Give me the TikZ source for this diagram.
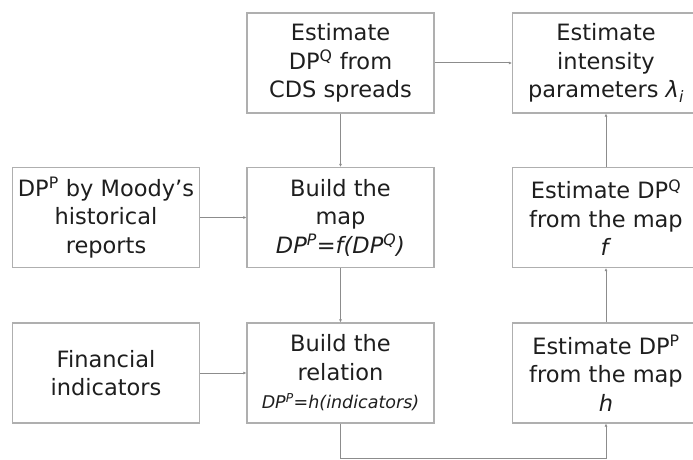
\documentclass[tikz,border=0pt]{standalone}
\usepackage{fontspec}
\setmainfont{DejaVu Sans}
\usepackage{xcolor}
\usetikzlibrary{arrows.meta,calc,positioning}
\definecolor{linegray}{RGB}{140,140,140}
\definecolor{boxgray}{RGB}{175,175,175}
\definecolor{textgray}{RGB}{30,30,30}

\begin{document}
\begin{tikzpicture}[x=1pt, y=-1pt,
	box/.style={draw=boxgray, line width=1.3pt, minimum width=187pt, minimum height=100pt,
		inner xsep=0pt, align=center, text=textgray, font=\fontsize{22.5}{28.5}\selectfont},
	conn/.style={draw=linegray, line width=1pt, -{Latex[length=3pt,width=3pt]}}]
	\useasboundingbox (0,0) rectangle (693,460);
	\clip (0,0) rectangle (693,460);
	% boxes
	\node [box] (cds) at (340.5,63) {Estimate\\DP\textsuperscript{Q} from\\CDS spreads};
	\node [box] (lam) at (606,63) {Estimate\\intensity\\parameters \textit{λ}\textsubscript{\textit{i}}};
	\node [box] (moody) at (106,217.5) {DP\textsuperscript{P} by Moody’s\\historical\\reports};
	\node [box] (map) at (340.5,217.5) {Build the\\map\\\textit{DP\textsuperscript{P}=f(DP\textsuperscript{Q})}};
	\node [box] (estQ) at (606,217.5) {Estimate DP\textsuperscript{Q}\\from the map\\\textit{f}};
	\node [box] (fin) at (106,373) {Financial\\indicators};
	\node [box] (rel) at (340.5,373) {Build the\\relation\\{\fontsize{17.5}{22}\selectfont\itshape DP\textsuperscript{P}=h(indicators)}};
	\node [box] (estP) at (606,373) {Estimate DP\textsuperscript{P}\\from the map\\\textit{h}};
	% connectors
	\draw [conn] (cds.east) -- (lam.west);
	\draw [conn] (cds.south) -- (map.north);
	\draw [conn] (moody.east) -- (map.west);
	\draw [conn] (map.south) -- (rel.north);
	\draw [conn] (fin.east) -- (rel.west);
	\draw [conn] (rel.south) -- ++(0,35) -| (estP.south);
	\draw [conn] (estP.north) -- (estQ.south);
	\draw [conn] (estQ.north) -- (lam.south);
\end{tikzpicture}
\end{document}
